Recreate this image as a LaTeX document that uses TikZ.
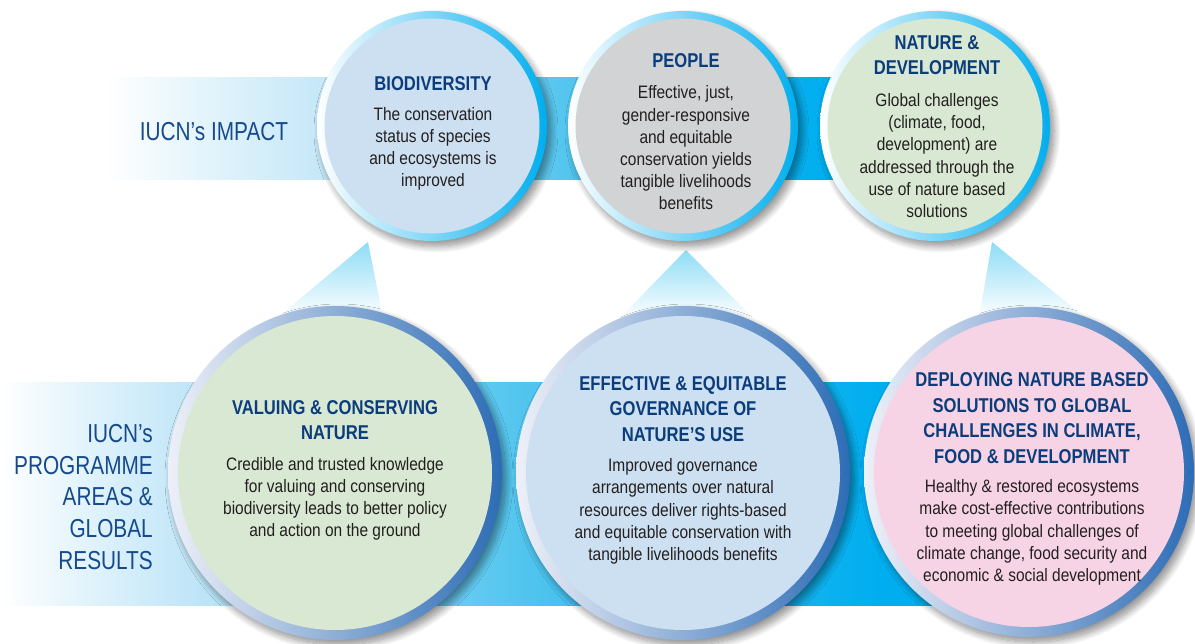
\documentclass[tikz,border=0pt]{standalone}
\usepackage{fontspec}
\setmainfont{Liberation Sans}[FakeStretch=0.86, BoldFeatures={FakeStretch=0.83}]
\newfontfamily\labelfont{Liberation Sans}[FakeStretch=0.8]
\usetikzlibrary{shadows.blur}

\definecolor{navy}{HTML}{0B3D7C}
\definecolor{labelblue}{HTML}{154A8C}
\definecolor{ink}{HTML}{231F20}
\definecolor{cyanband}{HTML}{00AEEF}
\definecolor{paleband}{HTML}{C4E7F8}
\definecolor{midband}{HTML}{4CC3EE}
\definecolor{conetop}{HTML}{8EDCF6}
\definecolor{bioFill}{HTML}{CCE0F1}
\definecolor{peopleFill}{HTML}{D1D3D4}
\definecolor{natureFill}{HTML}{D8E8D2}
\definecolor{pinkFill}{HTML}{F7D4E5}
\definecolor{rimDark}{HTML}{2D6CB5}
\definecolor{rimLight}{HTML}{EEF0F8}

% band shadings: the middle 50bp span the filled path
\pgfdeclarehorizontalshading{topband}{100bp}{%
  color(0bp)=(white); color(25bp)=(white); color(31bp)=(paleband!45);
  color(39bp)=(paleband); color(55bp)=(midband); color(70bp)=(cyanband);
  color(100bp)=(cyanband)}
\pgfdeclarehorizontalshading{lowband}{100bp}{%
  color(0bp)=(white); color(25bp)=(white); color(28bp)=(paleband!35);
  color(34bp)=(paleband); color(52bp)=(midband); color(69bp)=(cyanband);
  color(100bp)=(cyanband)}

\tikzset{
  x=1pt, y=-1pt,
  softshadow/.style={blur shadow={shadow xshift=4pt, shadow yshift=-5pt,
      shadow blur radius=7pt, shadow blur steps=12, shadow opacity=45}},
  toprim/.style={circle, inner sep=0pt, outer sep=0pt, minimum size=230pt,
      left color=white, right color=cyanband, softshadow},
  topdisc/.style={circle, inner sep=0pt, outer sep=0pt, minimum size=215pt},
  lowrim/.style={circle, inner sep=0pt, outer sep=0pt, minimum size=#1,
      left color=rimLight, right color=rimDark, softshadow},
  lowdisc/.style={circle, inner sep=0pt, outer sep=0pt, minimum size=#1},
  cone/.style={top color=conetop, bottom color=white},
  head/.style={font=\fontsize{20}{25.5}\selectfont\bfseries, text=navy,
      align=center, inner sep=0pt},
  body/.style={font=\fontsize{18}{22.2}\selectfont, text=ink,
      align=center, inner sep=0pt},
  rowlabel/.style={font=\labelfont\fontsize{26}{31.7}\selectfont, text=labelblue,
      inner sep=0pt},
}

\begin{document}
\begin{tikzpicture}
\useasboundingbox (0,0) rectangle (1195,644);

% horizontal bands
\shade[shading=topband] (105,78) rectangle (900,180);
\shade[shading=lowband] (0,383) rectangle (1000,605);

% cones rising from the programme areas to the impacts
\shade[cone] (368,242) -- (277,318) -- (383,318) -- cycle;
\shade[cone] (686,250) -- (620,318) -- (753,318) -- cycle;
\shade[cone] (992,242) -- (979,318) -- (1086,318) -- cycle;

% impact circles
\node[toprim] (bio) at (432,126) {};
\node[topdisc, fill=bioFill] (bio-in) at (bio) {};
\node[toprim] (ppl) at (683,126) {};
\node[topdisc, fill=peopleFill] (ppl-in) at (ppl) {};
\node[toprim] (nat) at (935,126) {};
\node[topdisc, fill=natureFill] (nat-in) at (nat) {};

% programme-area circles
\node[lowrim=334pt] (val) at (335,473) {};
\node[lowdisc=314pt, fill=natureFill] (val-in) at (val) {};
\node[lowrim=334pt] (eff) at (683,473) {};
\node[lowdisc=314pt, fill=bioFill] (eff-in) at (eff) {};
\node[lowrim=330pt] (dep) at (1029,472) {};
\node[lowdisc=310pt, fill=pinkFill] (dep-in) at (dep) {};

% row labels
\node[rowlabel] (impact) at (214,132) {IUCN’s IMPACT};
\node[rowlabel, align=right, anchor=east] (prog) at (153,497)
  {IUCN’s\\PROGRAMME\\AREAS \&\\GLOBAL\\RESULTS};

% impact texts
\node[head] (bio-h) at (433,84) {BIODIVERSITY};
\node[body] (bio-t) at (433,149) {The conservation\\status of species\\and ecosystems is\\improved};

\node[head] (ppl-h) at (686,61) {PEOPLE};
\node[body] (ppl-t) at (686,148) {Effective, just,\\gender-responsive\\and equitable\\conservation yields\\tangible livelihoods\\benefits};

\node[head] (nat-h) at (937,55) {NATURE \&\\DEVELOPMENT};
\node[body] (nat-t) at (937,155.5) {Global challenges\\(climate, food,\\development) are\\addressed through the\\use of nature based\\solutions};

% programme-area texts
\node[head] (val-h) at (335,420) {VALUING \& CONSERVING\\NATURE};
\node[body] (val-t) at (335,499) {Credible and trusted knowledge\\for valuing and conserving\\biodiversity leads to better policy\\and action on the ground};

\node[head] (eff-h) at (683,409) {EFFECTIVE \& EQUITABLE\\GOVERNANCE OF\\NATURE’S USE};
\node[body] (eff-t) at (683,511.5) {Improved governance\\arrangements over natural\\resources deliver rights-based\\and equitable conservation with\\tangible livelihoods benefits};

\node[head] (dep-h) at (1032,418) {DEPLOYING NATURE BASED\\SOLUTIONS TO GLOBAL\\CHALLENGES IN CLIMATE,\\FOOD \& DEVELOPMENT};
\node[body] (dep-t) at (1032,532.5) {Healthy \& restored ecosystems\\make cost-effective contributions\\to meeting global challenges of\\climate change, food security and\\economic \& social development};
\end{tikzpicture}
\end{document}
